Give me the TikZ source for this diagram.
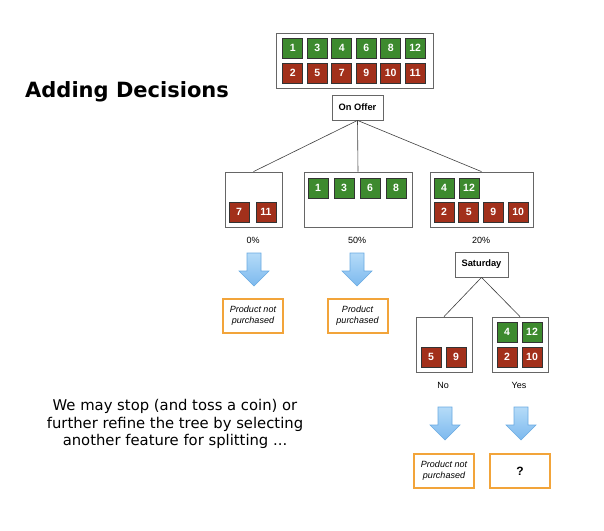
\documentclass[tikz,border=0pt]{standalone}
\usepackage{fontspec}
\setmainfont{Liberation Sans}
\newfontfamily\dejavu{DejaVu Sans}
\usetikzlibrary{shadings}
\definecolor{sqgreen}{HTML}{3D8A2E}
\definecolor{sqred}{HTML}{A2301B}
\definecolor{sqborder}{HTML}{333333}
\definecolor{boxgray}{HTML}{666666}
\definecolor{outorange}{HTML}{F2A43A}
\definecolor{arrtop}{HTML}{B5DBF8}
\definecolor{arrbot}{HTML}{7CB9EE}
\definecolor{arredge}{HTML}{6AAAE2}
\tikzset{
  sq/.style={draw=sqborder, line width=0.6pt, minimum width=20pt, minimum height=20pt, inner sep=0pt, text=white, font=\fontsize{10.5}{10.5}\selectfont\bfseries},
  gsq/.style={sq, fill=sqgreen},
  rsq/.style={sq, fill=sqred},
  setbox/.style={draw=boxgray, line width=0.8pt, fill=white},
  featbox/.style={draw=boxgray, line width=0.8pt, fill=white, inner sep=0pt, font=\fontsize{9.3}{9.3}\selectfont\bfseries},
  outbox/.style={draw=outorange, line width=2pt, fill=white, inner sep=0pt, align=center, font=\fontsize{9}{11}\selectfont\itshape},
  pct/.style={font=\fontsize{9}{9}\selectfont, inner sep=0pt},
  conn/.style={draw=black!75, line width=0.6pt},
  bigarrow/.style={draw=arredge, line width=0.6pt, top color=arrtop, bottom color=arrbot}
}
\newcommand{\downarrowshape}[3]{%
  % #1 center x, #2 top y, #3 name
  \path[bigarrow] (#1-7,#2) -- (#1+7,#2) -- (#1+7,#2+18) -- (#1+15,#2+18) -- (#1,#2+33) -- (#1-15,#2+18) -- (#1-7,#2+18) -- cycle;
  \coordinate (#3) at (#1,#2+16);
}
\begin{document}
\begin{tikzpicture}[x=1pt,y=-1pt]
\useasboundingbox (0,0) rectangle (604,530);
\fill[white] (0,0) rectangle (604,530);

% title
\node[anchor=base west, inner sep=0pt, font=\dejavu\bfseries\fontsize{21}{21}\selectfont] (title) at (25,97) {Adding Decisions};

% bottom text
\node[align=center, inner sep=0pt, font=\dejavu\fontsize{14.8}{17.8}\selectfont] (note) at (175,424) {We may stop (and toss a coin) or\\further refine the tree by selecting\\another feature for splitting ...};

% top set
\node[setbox, minimum width=157pt, minimum height=55pt, inner sep=0pt] (top) at (354.5,60.5) {};
\foreach \n [count=\i from 0] in {1,3,4,6,8,12} {
  \node[gsq] (tg\n) at (292.7+24.5*\i,48) {\n};
}
\foreach \n [count=\i from 0] in {2,5,7,9,10,11} {
  \node[rsq] (tr\n) at (292.7+24.5*\i,73) {\n};
}

% On Offer
\node[featbox, minimum width=51pt, minimum height=25pt] (offer) at (357.5,107.5) {On Offer};

% level 1 sets
\node[setbox, minimum width=57pt, minimum height=55pt, inner sep=0pt] (left) at (253.5,199.5) {};
\node[rsq] (l7) at (239,212) {7};
\node[rsq] (l11) at (266,212) {11};

\node[setbox, minimum width=108pt, minimum height=55pt, inner sep=0pt] (mid) at (358,199.5) {};
\foreach \n [count=\i from 0] in {1,3,6,8} {
  \node[gsq] (m\n) at (318+26*\i,188) {\n};
}

\node[setbox, minimum width=103pt, minimum height=55pt, inner sep=0pt] (right) at (481.5,199.5) {};
\node[gsq] (r4) at (444,188) {4};
\node[gsq] (r12) at (469,188) {12};
\foreach \n [count=\i from 0] in {2,5,9,10} {
  \node[rsq] (r\n) at (444+24.7*\i,212) {\n};
}

\draw[conn] (offer.south) -- (left.north);
\draw[conn] (offer.south) -- (mid.north);
\draw[conn] (offer.south) -- (right.north);

% percentages
\node[pct] (p0) at (253,240) {0\%};
\node[pct] (p50) at (357,240) {50\%};
\node[pct] (p20) at (481,240) {20\%};

% arrows level 1
\downarrowshape{254}{253}{a1}
\downarrowshape{357}{253}{a2}

% outcomes level 1
\node[outbox, minimum width=60pt, minimum height=34pt] (o1) at (253,316) {Product not\\purchased};
\node[outbox, minimum width=60pt, minimum height=34pt] (o2) at (357.5,316) {Product\\purchased};

% Saturday
\node[featbox, minimum width=53pt, minimum height=25pt] (sat) at (481.5,264.5) {Saturday};

% level 2 sets
\node[setbox, minimum width=56pt, minimum height=55pt, inner sep=0pt] (no) at (444,344.5) {};
\node[rsq] (n5) at (431,357) {5};
\node[rsq] (n9) at (456,357) {9};

\node[setbox, minimum width=56pt, minimum height=55pt, inner sep=0pt] (yes) at (520,344.5) {};
\node[gsq] (y4) at (507,332) {4};
\node[gsq] (y12) at (532,332) {12};
\node[rsq] (y2) at (507,357) {2};
\node[rsq] (y10) at (532,357) {10};

\draw[conn] (sat.south) -- (no.north);
\draw[conn] (sat.south) -- (yes.north);

\node[pct] (lno) at (443,385) {No};
\node[pct] (lyes) at (519,385) {Yes};

% arrows level 2
\downarrowshape{445}{407}{a3}
\downarrowshape{521}{407}{a4}

% outcomes level 2
\node[outbox, minimum width=60pt, minimum height=34pt] (o3) at (444,471) {Product not\\purchased};
\node[outbox, minimum width=60pt, minimum height=34pt, font=\fontsize{12}{12}\selectfont\bfseries] (o4) at (520,471) {?};
\end{tikzpicture}
\end{document}
